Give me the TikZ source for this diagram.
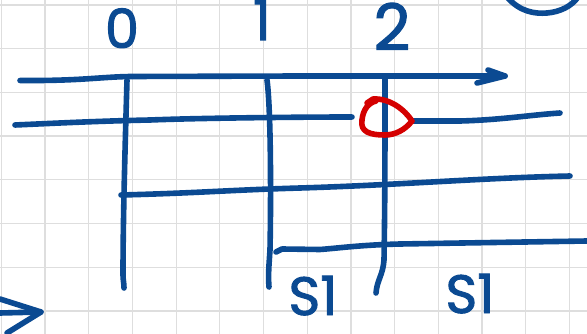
\documentclass[tikz,border=0pt]{standalone}
\usepackage{fontspec}
\setmainfont{Poppins}
\newfontfamily\handfont[FakeBold=1.8]{Poppins}
\definecolor{inkblue}{HTML}{0B4A92}
\definecolor{inkred}{HTML}{D40000}
\definecolor{gridgray}{HTML}{DEDEDE}
\begin{document}
\begin{tikzpicture}[x=1pt,y=-1pt,
  pen/.style={draw=inkblue,line width=5.6pt,line cap=round,line join=round},
  redpen/.style={pen,draw=inkred},
  gridl/.style={draw=gridgray,line width=1.2pt},
  lbl/.style={text=inkblue,inner sep=0pt,anchor=base}]
\useasboundingbox (0,0) rectangle (587,334);
\fill[white] (0,0) rectangle (587,334);
% grid paper
\foreach \i in {0,...,13} \draw[gridl] ({1.3+43.7*\i},0) -- ({1.3+43.7*\i},334);
\foreach \j in {0,...,7} \draw[gridl] (0,{5+43.7*\j}) -- (587,{5+43.7*\j});
% named points
\coordinate (a1) at (20,80.5);
\coordinate (a2) at (505,76);
\coordinate (b1) at (15,125);
\coordinate (b2) at (352,117);
\coordinate (b3) at (412,121);
\coordinate (b4) at (560,113);
\coordinate (c1) at (121,195);
\coordinate (c2) at (570,176);
\coordinate (d1) at (276,252);
\coordinate (d2) at (587,241);
\coordinate (v0t) at (127,80);
\coordinate (v0b) at (124,288);
\coordinate (v1t) at (267,80);
\coordinate (v1b) at (269,287);
\coordinate (v2t) at (385,77);
\coordinate (v2b) at (376,293);
% top axis arrow
\draw[pen] (a1) .. controls (80,81) and (100,77) .. (130,76.5) -- (300,76) -- (a2);
\draw[pen] (488,70) -- (a2) -- (477,83);
% second row
\draw[pen] (b1) .. controls (60,123) and (100,121) .. (150,120) .. controls (200,118) and (300,117) .. (b2);
\draw[pen] (b3) -- (460,121) .. controls (500,120) and (530,115) .. (b4);
% vertical lines
\draw[pen] (v0t) .. controls (125,150) and (123,220) .. (123,275) .. controls (123,280) and (124,283) .. (v0b);
\draw[pen] (v1t) .. controls (271,110) and (271,200) .. (270,250) .. controls (269,265) and (268,275) .. (v1b);
\draw[pen] (v2t) .. controls (385,150) and (385,200) .. (384,260) .. controls (383,275) and (377,280) .. (v2b);
% lower rows
\draw[pen] (c1) .. controls (200,193) and (230,190) .. (300,188) .. controls (400,185) and (480,178) .. (c2);
\draw[pen] (d1) -- (282,249) -- (320,249.5) .. controls (340,248) and (360,245) .. (400,244) -- (d2);
% red loop
\draw[redpen] (367,103) -- (373,99) .. controls (390,98) and (405,110) .. (b3) .. controls (405,130) and (395,135) .. (385,135) .. controls (370,135) and (360,132) .. (362,120) .. controls (363,110) and (368,103) .. (376,101);
% bottom-left arrow
\coordinate (e1) at (41,312);
\draw[pen] (0,299) -- (e1) -- (7,333);
\draw[pen] (0,313) -- (e1);
% top-right arc
\draw[pen] (507,-3) .. controls (520,12) and (535,14) .. (547,13) .. controls (560,12) and (572,6) .. (578,-3);
% labels
\node[lbl,font=\handfont\fontsize{54}{54}\selectfont] (l0) at (122,48) {0};
\node[lbl,font=\handfont\fontsize{56}{56}\selectfont] (l1) at (262,40) {1};
\node[lbl,font=\handfont\fontsize{64}{64}\selectfont] (l2) at (392,50) {2};
\node[lbl,font=\handfont\fontsize{54}{54}\selectfont] (s1) at (313,315) {S1};
\node[lbl,font=\handfont\fontsize{54}{54}\selectfont] (s2) at (470,313) {S1};
\end{tikzpicture}
\end{document}
